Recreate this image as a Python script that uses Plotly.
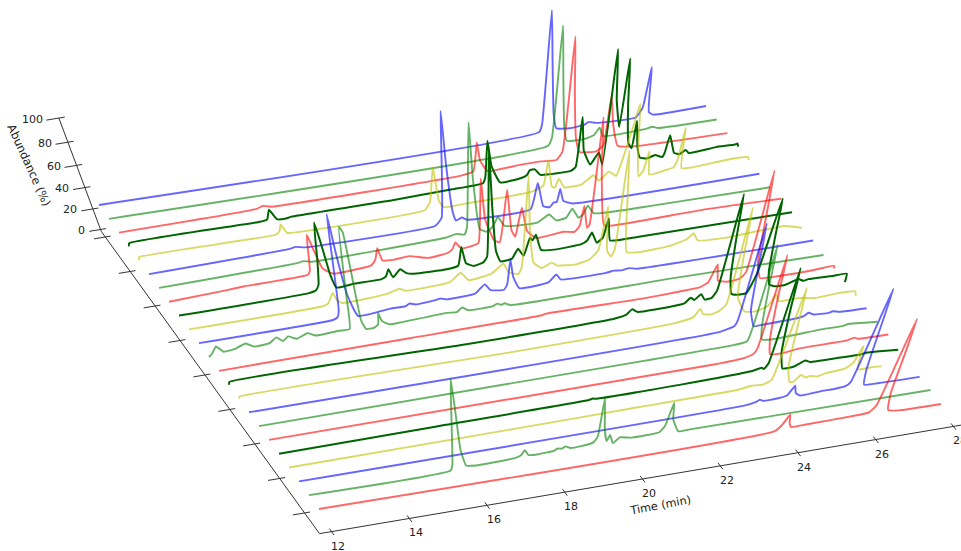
import plotly.graph_objects as go

# (time in min, abundance in %); s00 is the front series, s22 the back one
s00 = [(12,0),(23.7,1),(23.85,7),(23.98,19),(24.04,9),(24.12,3),(24.5,3),(25.9,4),(26.1,5),(26.22,12),(26.27,105),(26.36,70),(26.46,25),(26.6,4),(26.9,1),(28,0)]
s01 = [(12,0),(15.65,1),(15.7,8),(15.75,107),(15.82,75),(15.92,25),(16.05,4),(16.3,2),(17.3,3),(17.45,5),(17.55,11),(17.65,4),(17.9,3),(18.3,4),(18.4,6),(18.5,5),(18.6,7),(18.72,4),(19.0,4),(19.3,6),(19.4,12),(19.46,57),(19.56,20),(19.65,5),(19.72,12),(19.82,1),(19.98,7),(20.3,4),(21.0,5),(21.12,12),(21.23,38),(21.3,18),(21.5,2),(21.8,2),(28,0.5)]
s02 = [(12,0),(23.5,1),(23.75,3),(23.85,5),(23.95,3),(24.3,3),(24.55,5),(24.68,15),(24.76,6),(24.9,2),(25.5,3),(25.8,3),(26.05,4),(26.15,8),(26.27,105),(26.35,65),(26.44,20),(26.55,2),(26.8,1),(28,0)]
s03 = [(12,0),(18,1),(21,2),(23.6,3),(23.9,5),(24.2,4),(24.4,8),(24.55,103),(24.63,65),(24.74,20),(24.9,2),(25.0,1),(25.15,8),(25.3,4),(25.4,5),(25.6,3),(25.8,5),(26.3,7),(26.45,12),(26.55,30),(26.6,12),(26.65,3),(27.0,3),(27.27,2)]
s04 = [(12,0),(16,1),(20.0,2),(20.1,3),(20.2,2),(22.3,2),(24.2,4),(24.43,6),(24.5,4),(24.58,10),(24.65,107),(24.72,65),(24.84,20),(25.0,1),(25.3,1),(25.55,6),(25.7,3),(25.8,3),(27.0,2),(27.14,3),(27.5,2),(28,0)]
s05 = [(12,0),(23.5,1),(24.3,3),(24.5,6),(24.56,12),(24.63,105),(24.7,65),(24.82,20),(24.95,2),(25.3,1),(25.65,3),(26.5,3),(26.9,3),(27.1,5),(27.2,3),(28,2)]
s06 = [(12,0),(22,1),(24.3,2),(24.62,4),(24.71,100),(24.79,60),(24.9,18),(25.0,3),(25.3,1),(26.5,3),(27.1,3),(27.2,4),(28,1)]
s07 = [(12,0),(24.2,2),(24.55,6),(24.6,12),(24.69,106),(24.77,65),(24.88,20),(25.07,2),(25.3,2),(26.2,3),(26.35,4),(26.45,7),(26.6,4),(27.0,3),(27.1,4),(27.3,2),(28,1)]
s08 = [(12,0),(12.03,2),(19,1),(23.3,3),(23.75,6),(23.9,14),(24.0,8),(24.2,6),(24.4,8),(24.56,14),(24.63,107),(24.7,65),(24.82,20),(25.1,3),(25.4,1),(25.7,5),(25.83,16),(25.95,8),(26.2,8),(26.45,8),(26.9,5),(27.5,6),(27.95,5),(28,0)]
s09 = [(12,0),(12.03,3),(18,1),(22,2),(22.3,4),(22.44,9),(22.6,5),(23.5,5),(23.8,6),(23.94,11),(24.05,8),(24.2,13),(24.32,6.5),(24.5,7),(24.6,14),(24.71,105),(24.78,65),(24.88,25),(25.0,8),(25.15,6),(25.4,6),(25.55,25),(25.69,95),(25.76,60),(25.85,25),(25.96,11),(26.15,8),(26.4,8),(26.7,12),(26.85,9),(26.97,10),(27.6,9),(27.97,9),(28,0)]
s10 = [(12,0),(17,1),(20.4,2),(20.5,3),(23,2),(24.0,3),(24.5,4),(24.68,8),(24.83,25),(24.93,8),(25.2,5),(25.5,6),(25.63,12),(25.69,106),(25.78,65),(25.88,20),(26.05,3),(26.4,2),(27.4,2),(27.97,3),(28,0)]
s11 = [(12,0),(12.1,3),(12.25,10),(12.4,3),(12.7,4),(13.0,8),(13.2,3),(13.6,4),(13.8,9),(13.95,4),(14.1,8),(14.3,4),(14.6,8),(14.8,4),(15.4,5),(15.68,5),(15.72,40),(15.78,105),(15.85,100),(15.92,60),(16.0,12),(16.1,2),(16.3,2),(16.42,5),(16.45,17),(16.52,8),(16.7,3),(17.0,3),(18.2,5),(18.45,4),(18.6,8),(18.75,4),(19.4,4),(19.5,6),(19.6,4),(19.7,5),(19.85,2),(24,2),(28,0)]
s12 = [(12,0),(15.5,1),(15.62,3),(15.68,10),(15.75,103),(15.83,65),(15.95,25),(16.15,1),(17.0,3),(17.4,3),(17.5,5),(17.65,3),(18.15,4),(18.3,5),(18.45,3),(19.2,4),(19.45,12),(19.6,5),(19.95,3),(20.03,8),(20.1,33),(20.18,15),(20.35,2),(21.1,3),(21.3,10),(21.42,4),(22.6,3),(22.8,4),(23.0,3),(23.2,4),(23.4,2),(28,1)]
s13 = [(12,0),(15.5,1),(15.65,3),(15.72,8),(15.8,13),(15.88,5),(16.0,1),(17.2,3),(17.5,6),(17.65,3),(18.8,4),(19.1,12),(19.3,3),(19.9,6),(20.2,14),(20.35,4),(20.6,1),(20.68,8),(20.77,93),(20.86,40),(20.98,10),(21.2,3),(21.45,7),(21.6,3),(22.1,1),(22.45,4),(22.65,12),(22.78,53),(22.88,10),(23.0,3),(23.08,10),(23.14,100),(23.24,60),(23.4,5),(23.7,3),(24.5,4),(24.95,8),(25.1,13),(25.25,5),(26,3),(27.5,5),(28,0)]
s14 = [(12,0),(15.4,1),(15.6,3),(15.68,8),(15.75,30),(15.83,68),(15.92,45),(16.02,15),(16.12,2),(16.6,3),(17.3,3),(17.42,5),(17.5,12),(17.6,3),(17.8,10),(17.95,5),(18.15,3),(19.0,2),(19.3,4),(19.39,22),(19.5,5),(19.7,1),(19.95,3),(20.05,8),(20.1,105),(20.18,55),(20.28,12),(20.4,1),(20.7,2),(20.85,11),(21.0,3),(21.15,20),(21.22,17),(21.3,22),(21.45,6),(21.8,4),(22.5,5),(22.65,8),(22.75,15),(22.9,4),(23.05,8),(23.15,26),(23.25,4),(24,3),(28,2)]
s15 = [(12,0),(13.5,2),(14.0,3),(15.65,4),(15.72,8),(15.8,43),(15.9,28),(16.05,8),(16.3,1),(17.3,3),(17.42,8),(17.5,19),(17.6,6),(17.9,5),(18.3,6),(18.8,1),(19.3,3),(19.42,6),(19.5,12),(19.65,5),(19.95,6),(20.1,8),(20.17,68),(20.27,30),(20.5,8),(20.65,5),(20.72,20),(20.82,54),(20.95,15),(21.05,8),(21.2,35),(21.35,12),(21.6,3),(22.3,5),(22.6,3),(22.72,8),(22.8,27),(22.92,5),(22.98,8),(23.07,103),(23.15,60),(23.36,5),(23.6,3),(26,4),(28,2)]
s16 = [(12,0),(15.6,2),(15.8,3),(16,1),(19.5,3),(19.8,5),(20,3),(20.07,10),(20.16,103),(20.24,55),(20.4,6),(20.6,2),(20.75,7),(20.87,15),(21.05,5),(21.9,3),(22.2,9),(22.4,2),(22.65,3),(22.8,11),(22.98,1),(23.1,4),(23.2,11.5),(23.38,3),(25,1),(28,0)]
s17 = [(12,0),(15.7,2),(15.86,3),(16.1,1),(19.5,1),(19.68,8),(19.77,102),(19.85,55),(19.97,12),(20.05,3),(20.2,5),(20.35,2),(22.0,2),(22.16,26),(22.33,3),(22.5,1),(22.6,5),(22.68,5),(22.75,17),(22.85,5),(23.1,1),(28,0)]
s18 = [(12,0),(12.03,3),(15.6,3),(15.72,6),(15.78,12),(15.9,3),(16.2,2),(19.5,3),(19.65,10),(19.77,42),(19.88,10),(20.0,3),(20.6,3),(21.6,3),(22.3,4),(22.6,8),(22.7,31),(22.82,6),(22.9,4),(23,12),(23.15,3),(23.6,3),(23.9,10),(24.05,4),(24.3,11),(24.5,6),(24.65,25),(24.8,50),(24.9,67),(25.0,25),(25.1,2),(25.2,6),(25.3,24),(25.38,2),(25.7,3),(26.0,5),(26.08,12),(26.15,40),(26.22,3),(26.5,2),(27.5,4),(27.97,3),(28,0)]
s19 = [(12,0),(12.03,3),(15.4,3),(15.65,4),(15.75,13),(15.9,3),(16.1,2),(16.3,3),(19,3),(20.5,4),(21.3,5),(21.36,10),(21.42,43),(21.52,20),(21.75,3),(22.3,4),(22.45,6),(22.52,10),(22.65,10),(22.8,4),(23.6,3),(23.72,6),(23.8,50),(23.9,20),(24.1,6),(24.3,16),(24.42,4),(24.52,101),(24.62,60),(24.76,36),(24.84,92),(24.92,55),(25.05,20),(25.15,15),(25.2,39),(25.3,15),(25.4,5),(25.6,3),(25.8,5),(26,2),(26.05,6),(26.12,21),(26.3,4),(26.45,2),(26.6,5),(26.7,1.5),(27.4,3),(27.9,2.5),(27.97,3),(28,0)]
s20 = [(12,0),(15.6,1),(15.8,3),(16,1),(21,1),(21.32,3),(21.42,29),(21.5,12),(21.7,1),(22.5,2),(23.1,2),(23.5,1),(23.65,8),(23.78,103),(23.86,60),(23.98,18),(24.1,5),(24.55,3),(24.72,8),(24.8,50),(24.92,25),(25.1,5),(25.5,2),(28,0)]
s21 = [(12,0),(23.55,1),(23.65,8),(23.77,100),(23.85,60),(23.96,15),(24.05,3),(24.5,2),(24.75,4),(24.89,10),(25.0,2),(26.1,2),(26.3,3),(26.45,1),(28,0)]
s22 = [(12,0),(23.6,1),(23.67,8),(23.78,100),(23.86,60),(23.96,15),(24.05,2),(24.4,0),(24.8,1),(24.9,3),(25.1,1),(26.15,0),(26.3,8),(26.4,42),(26.48,3),(26.6,0),(28,0)]
series = [s00,s01,s02,s03,s04,s05,s06,s07,s08,s09,s10,s11,s12,s13,s14,s15,s16,s17,s18,s19,s20,s21,s22]

time_ticks = [12,14,16,18,20,22,24,26,28]
sample_ticks = [0,2.5,5,7.5,10,12.5,15,17.5,20]
abundance_ticks = [0,20,40,60,80,100]
colors = ["rgba(255,0,0,0.6)","rgba(0,128,0,0.6)","rgba(0,0,255,0.6)","rgba(191,191,0,0.6)","#006400"]

# pinhole view of the 3D box: floor corners in pixels plus the point verticals converge on
A,B,C,D = (319,509),(941,404),(99,205),(706,106)
NX,NY,PERSP = 490.0,1270.0,0.000967
TC,SF,SB,ZF = 11.62,-1.5,20.4,-2.0
TSHIFT = -0.07
AXCOL = "#333333"
TXT = "#222222"

def project(t,s,z):
    u,v = (t-12)/16.0, s/22.0
    fx = (1-u)*(1-v)*A[0]+u*(1-v)*B[0]+(1-u)*v*C[0]+u*v*D[0]
    fy = (1-u)*(1-v)*A[1]+u*(1-v)*B[1]+(1-u)*v*C[1]+u*v*D[1]
    w = 1.0/(1.0-PERSP*z)
    return NX+(fx-NX)*w, NY+(fy-NY)*w

def polyline(points, color, width, shape="linear"):
    xy = [project(*p) for p in points]
    return go.Scatter(x=[p[0] for p in xy], y=[p[1] for p in xy], mode="lines",
                      line=dict(color=color,width=width,shape=shape,smoothing=0.4),
                      hoverinfo="skip",showlegend=False)

fig = go.Figure()
# axes
fig.add_trace(polyline([(28.15,SF,ZF),(TC,SF,ZF),(TC,SB,ZF),(TC,SB,100)],AXCOL,1))
for t in time_ticks:
    fig.add_trace(polyline([(t+TSHIFT,SF+0.22,ZF),(t+TSHIFT,SF-0.25,ZF)],AXCOL,1))
for s in sample_ticks:
    fig.add_trace(polyline([(TC-0.3,s,ZF),(TC+0.14,s,ZF)],AXCOL,1))
for z in abundance_ticks:
    fig.add_trace(polyline([(TC-0.3,SB,z),(TC+0.14,SB,z)],AXCOL,1))
# series, back to front
for k in range(len(series)-1,-1,-1):
    c = colors[k%5]
    fig.add_trace(polyline([(t,k,z) for t,z in series[k]],c,2.0 if k%5==4 else 1.9,"spline"))

ann=[]
for t in time_ticks:
    x,y = project(t+TSHIFT,SF,ZF)
    ann.append(dict(x=x+6.5,y=y+14.5,text=str(t),xanchor="center",yanchor="middle",showarrow=False,font=dict(size=11,color=TXT,family="DejaVu Sans")))
for z in abundance_ticks:
    x,y = project(TC,SB,z)
    ann.append(dict(x=x-16-3.5*len(str(z)),y=y+1,text=str(z),xanchor="center",yanchor="middle",showarrow=False,font=dict(size=11,color=TXT,family="DejaVu Sans")))
ann.append(dict(x=660,y=505,text="Time (min)",textangle=-10.7,showarrow=False,font=dict(size=11.3,color=TXT,family="DejaVu Sans")))
ann.append(dict(x=29,y=165,text="Abundance (%)",textangle=65.5,showarrow=False,font=dict(size=11.5,color=TXT,family="DejaVu Sans")))

fig.update_layout(width=961,height=551,margin=dict(l=0,r=0,t=0,b=0),paper_bgcolor="white",plot_bgcolor="white",
    xaxis=dict(range=[0,961],visible=False,fixedrange=True),
    yaxis=dict(range=[551,0],visible=False,fixedrange=True),
    annotations=ann,showlegend=False)
fig.write_html("out.html",config=dict(displayModeBar=False),
    post_script="document.body.style.margin='0';document.body.style.overflow='hidden';")
